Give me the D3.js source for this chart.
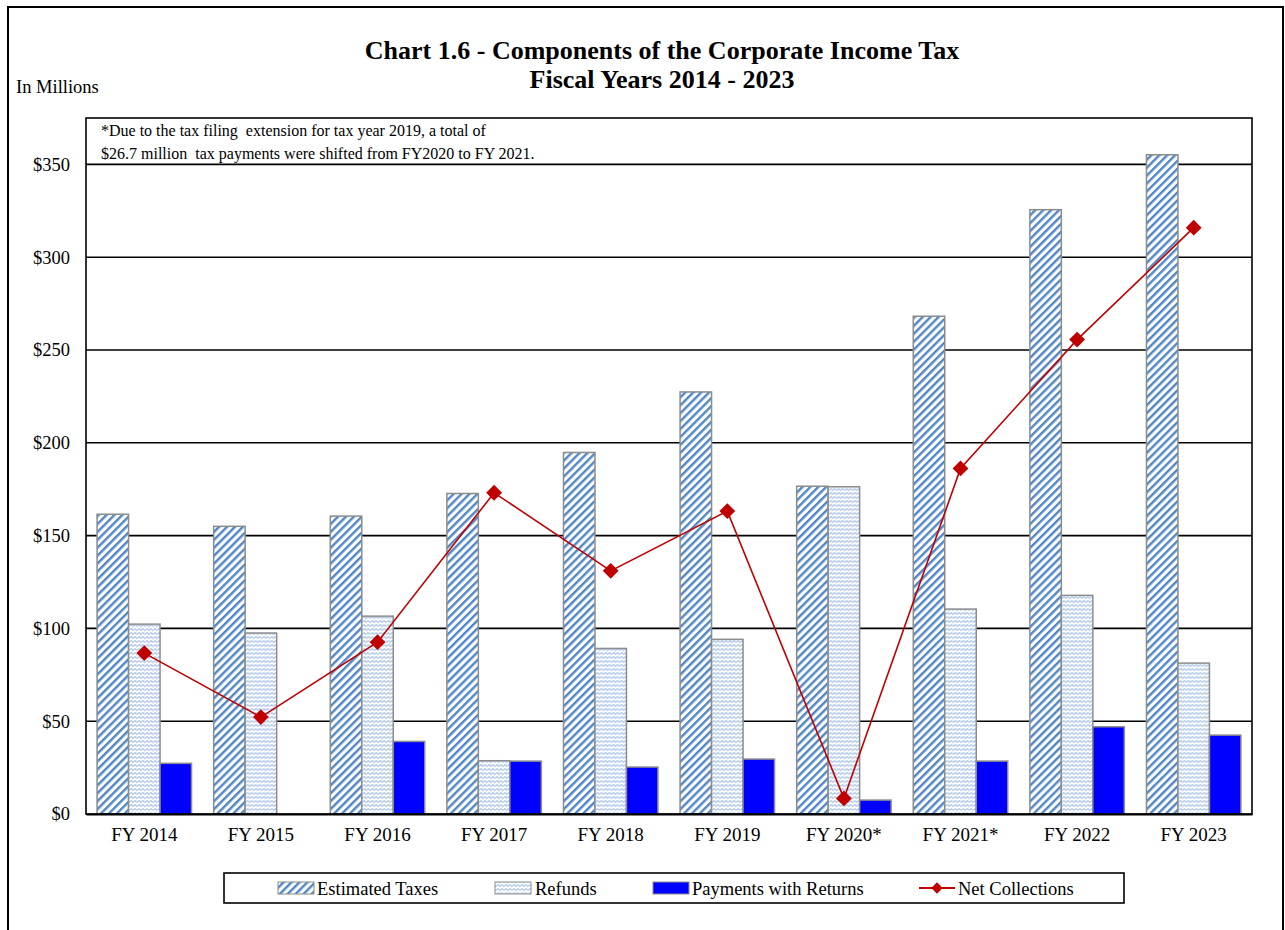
<!DOCTYPE html>
<html>
<head>
<meta charset="utf-8">
<script src="https://cdn.jsdelivr.net/npm/d3@7"></script>
<style>
  html, body { margin: 0; padding: 0; background: #fff; }
  svg { display: block; }
  text { font-family: "Liberation Serif", "Times New Roman", serif; fill: #000; white-space: pre; }
</style>
</head>
<body>
<svg id="chart" width="1285" height="930"></svg>
<script>
// ---- data ----
const categories = ["FY 2014", "FY 2015", "FY 2016", "FY 2017", "FY 2018", "FY 2019", "FY 2020*", "FY 2021*", "FY 2022", "FY 2023"];
const estimatedTaxes = [161.5, 155.0, 160.5, 172.7, 194.8, 227.4, 176.6, 268.2, 325.6, 355.2];
const refunds        = [102.3, 97.5, 106.6, 28.7, 89.2, 94.1, 176.3, 110.4, 117.8, 81.3];
const paymentsWithReturns = [27.3, 0, 39.1, 28.5, 25.3, 29.6, 7.5, 28.5, 47.0, 42.5];
const netCollections = [86.7, 52.2, 92.6, 173.1, 131.0, 163.2, 8.4, 186.2, 255.6, 315.9];
const yTicks = [0, 50, 100, 150, 200, 250, 300, 350];
const seriesNames = ["Estimated Taxes", "Refunds", "Payments with Returns", "Net Collections"];
const titleLines = ["Chart 1.6 - Components of the Corporate Income Tax", "Fiscal Years 2014 - 2023"];
const noteLines = ["*Due to the tax filing  extension for tax year 2019, a total of", "$26.7 million  tax payments were shifted from FY2020 to FY 2021."];

// ---- layout ----
const svg = d3.select("#chart");
const plot = { left: 86, right: 1252, top: 118, bottom: 814 };
const FONT = "Liberation Serif, Times New Roman, serif";

const defs = svg.append("defs");
// Estimated taxes: wide upward diagonal stripes
const pEst = defs.append("pattern")
  .attr("id", "pEst").attr("patternUnits", "userSpaceOnUse")
  .attr("width", 5.6).attr("height", 5.6)
  .attr("patternTransform", "rotate(45)");
pEst.append("rect").attr("width", 5.6).attr("height", 5.6).attr("fill", "#fff");
pEst.append("rect").attr("x", 0).attr("width", 2.4).attr("height", 5.6).attr("fill", "#4F86C6");

// Refunds: light weave texture
const pRef = defs.append("pattern")
  .attr("id", "pRef").attr("patternUnits", "userSpaceOnUse")
  .attr("width", 8).attr("height", 8);
pRef.append("rect").attr("width", 8).attr("height", 8).attr("fill", "#fff");
pRef.append("path")
  .attr("d", "M0,2.5 L2,0.5 L4,2.5 L6,0.5 L8,2.5 M0,6.5 L2,4.5 L4,6.5 L6,4.5 L8,6.5")
  .attr("fill", "none").attr("stroke", "#AFC7EA").attr("stroke-width", 1.1);
pRef.append("rect").attr("x", 3).attr("y", 3.5).attr("width", 1).attr("height", 1).attr("fill", "#C5D6EE");
pRef.append("rect").attr("x", 7).attr("y", 7.5).attr("width", 1).attr("height", 0.5).attr("fill", "#C5D6EE");

const fills = ["url(#pEst)", "url(#pRef)", "#0000FF"];
const series = [estimatedTaxes, refunds, paymentsWithReturns];

// outer frame
svg.append("rect").attr("x", 8).attr("y", 7).attr("width", 1275).attr("height", 940)
  .attr("fill", "none").attr("stroke", "#000").attr("stroke-width", 2);

// title
svg.append("g").selectAll("text").data(titleLines).join("text")
  .attr("x", 662).attr("y", (d, i) => 59 + i * 29)
  .attr("text-anchor", "middle").attr("font-size", 26).attr("font-weight", "bold")
  .text(d => d);

svg.append("text").attr("x", 16).attr("y", 93).attr("font-size", 18.5).text("In Millions");

// scales
const x0 = d3.scaleBand().domain(categories).range([plot.left, plot.right])
  .paddingInner(0.19).paddingOuter(0.095);
const x1 = d3.scaleBand().domain([0, 1, 2]).range([0, x0.bandwidth()]);
const y = d3.scaleLinear().domain([0, 375]).range([plot.bottom, plot.top]);

// gridlines
svg.append("g").selectAll("line").data(yTicks.filter(d => d > 0)).join("line")
  .attr("x1", plot.left).attr("x2", plot.right)
  .attr("y1", d => y(d)).attr("y2", d => y(d))
  .attr("stroke", "#000").attr("stroke-width", 1.6);

// y axis labels
const yAxis = d3.axisLeft(y).tickValues(yTicks).tickSize(0).tickPadding(16)
  .tickFormat(d => "$" + d);
const gy = svg.append("g").attr("transform", `translate(${plot.left},0)`).call(yAxis)
  .attr("font-family", FONT).attr("font-size", 18.5);
gy.select(".domain").remove();

// annotation
svg.append("g").selectAll("text").data(noteLines).join("text")
  .attr("x", 101).attr("y", (d, i) => 136 + i * 23)
  .attr("font-size", 16).text(d => d);

// bars
const groups = svg.append("g").selectAll("g").data(categories).join("g")
  .attr("transform", d => `translate(${x0(d)},0)`);
groups.selectAll("rect").data((d, i) => series.map((s, k) => ({ k, v: s[i] })).filter(e => e.v > 0))
  .join("rect")
  .attr("x", e => x1(e.k)).attr("width", x1.bandwidth())
  .attr("y", e => y(e.v)).attr("height", e => y(0) - y(e.v))
  .attr("fill", e => fills[e.k]).attr("stroke", "#8C8C8C").attr("stroke-width", 1.5);

// net collections line
const cx = (d) => x0(d) + x0.bandwidth() / 2;
const line = d3.line().x((d, i) => cx(categories[i])).y(d => y(d));
svg.append("path").datum(netCollections).attr("d", line)
  .attr("fill", "none").attr("stroke", "#C00000").attr("stroke-width", 1.6);
const diamond = d3.symbol().type(d3.symbolSquare).size(125);
svg.append("g").selectAll("path").data(netCollections).join("path")
  .attr("d", diamond)
  .attr("transform", (d, i) => `translate(${cx(categories[i])},${y(d)}) rotate(45)`)
  .attr("fill", "#C00000");

// plot frame
svg.append("rect").attr("x", plot.left).attr("y", plot.top)
  .attr("width", plot.right - plot.left).attr("height", plot.bottom - plot.top)
  .attr("fill", "none").attr("stroke", "#000").attr("stroke-width", 1.6);

// x axis labels
const xAxis = d3.axisBottom(x0).tickSize(0).tickPadding(14);
const gx = svg.append("g").attr("transform", `translate(0,${plot.bottom})`).call(xAxis)
  .attr("font-family", FONT).attr("font-size", 19);
gx.select(".domain").attr("stroke", "#000").attr("stroke-width", 2);

// legend
const lg = svg.append("g");
lg.append("rect").attr("x", 224).attr("y", 873).attr("width", 900).attr("height", 30)
  .attr("fill", "#fff").attr("stroke", "#000").attr("stroke-width", 1.6);
const swX = [278, 495, 653];
swX.forEach((sx, k) => {
  lg.append("rect").attr("x", sx).attr("y", 882).attr("width", 36).attr("height", 12)
    .attr("fill", fills[k]).attr("stroke", "#8C8C8C").attr("stroke-width", 1);
});
lg.append("line").attr("x1", 919).attr("x2", 955).attr("y1", 888).attr("y2", 888)
  .attr("stroke", "#C00000").attr("stroke-width", 2);
lg.append("path").attr("d", d3.symbol().type(d3.symbolSquare).size(64))
  .attr("transform", "translate(937,888) rotate(45)").attr("fill", "#C00000");
const txX = [317, 535, 692, 958];
lg.selectAll("text.lt").data(seriesNames).join("text").attr("class", "lt")
  .attr("x", (d, i) => txX[i]).attr("y", 894.5).attr("font-size", 18.5).text(d => d);
</script>
</body>
</html>
